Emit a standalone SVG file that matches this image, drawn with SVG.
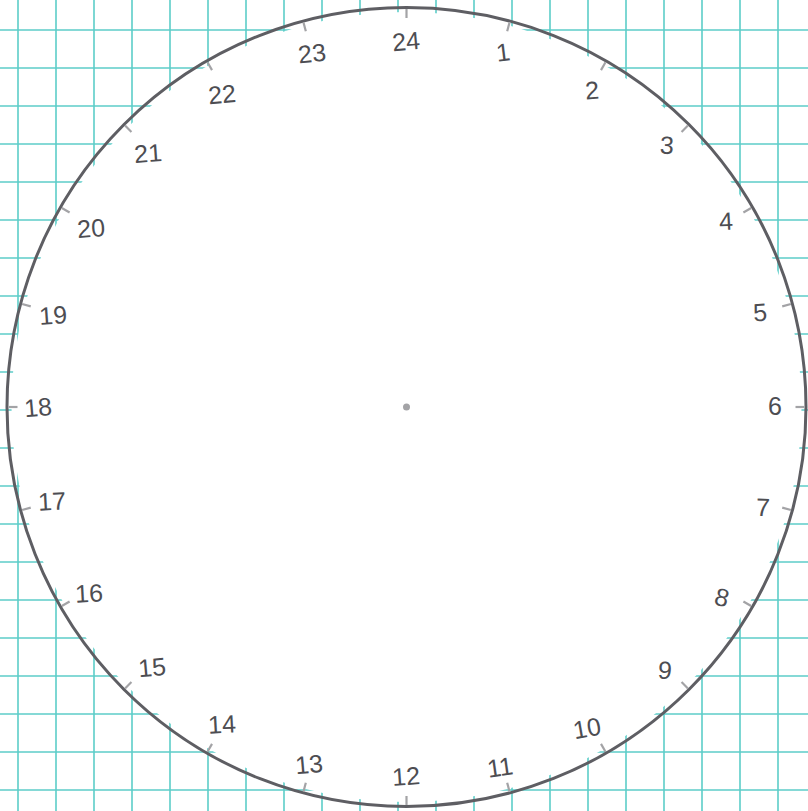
<svg xmlns="http://www.w3.org/2000/svg" width="808" height="811" viewBox="0 0 808 811">
<defs>
<style>
.grid line{stroke:#5ccdc8;stroke-width:1.6}
.tick{stroke:#a3a3a6;stroke-width:2.2}
.num{font-family:"Liberation Sans","DejaVu Sans",sans-serif;font-size:25px;fill:#4d4d52;text-anchor:middle;dominant-baseline:central}
</style>
</defs>
<rect width="808" height="811" fill="#ffffff"/>
<g class="grid" id="grid">
<line x1="18" y1="0" x2="18" y2="811"/><line x1="56" y1="0" x2="56" y2="811"/><line x1="94" y1="0" x2="94" y2="811"/><line x1="132" y1="0" x2="132" y2="811"/><line x1="170" y1="0" x2="170" y2="811"/><line x1="208" y1="0" x2="208" y2="811"/><line x1="246" y1="0" x2="246" y2="811"/><line x1="284" y1="0" x2="284" y2="811"/><line x1="322" y1="0" x2="322" y2="811"/><line x1="360" y1="0" x2="360" y2="811"/><line x1="398" y1="0" x2="398" y2="811"/><line x1="436" y1="0" x2="436" y2="811"/><line x1="474" y1="0" x2="474" y2="811"/><line x1="512" y1="0" x2="512" y2="811"/><line x1="550" y1="0" x2="550" y2="811"/><line x1="588" y1="0" x2="588" y2="811"/><line x1="626" y1="0" x2="626" y2="811"/><line x1="664" y1="0" x2="664" y2="811"/><line x1="702" y1="0" x2="702" y2="811"/><line x1="740" y1="0" x2="740" y2="811"/><line x1="778" y1="0" x2="778" y2="811"/>
<line x1="0" y1="30" x2="808" y2="30"/><line x1="0" y1="68" x2="808" y2="68"/><line x1="0" y1="106" x2="808" y2="106"/><line x1="0" y1="144" x2="808" y2="144"/><line x1="0" y1="182" x2="808" y2="182"/><line x1="0" y1="220" x2="808" y2="220"/><line x1="0" y1="258" x2="808" y2="258"/><line x1="0" y1="296" x2="808" y2="296"/><line x1="0" y1="334" x2="808" y2="334"/><line x1="0" y1="372" x2="808" y2="372"/><line x1="0" y1="410" x2="808" y2="410"/><line x1="0" y1="448" x2="808" y2="448"/><line x1="0" y1="486" x2="808" y2="486"/><line x1="0" y1="524" x2="808" y2="524"/><line x1="0" y1="562" x2="808" y2="562"/><line x1="0" y1="600" x2="808" y2="600"/><line x1="0" y1="638" x2="808" y2="638"/><line x1="0" y1="676" x2="808" y2="676"/><line x1="0" y1="714" x2="808" y2="714"/><line x1="0" y1="752" x2="808" y2="752"/><line x1="0" y1="790" x2="808" y2="790"/>
</g>
<g id="dial">
<circle cx="406.5" cy="407" r="395" fill="#ffffff"/>
<circle cx="406.5" cy="407" r="399.5" fill="none" stroke="#5e5e63" stroke-width="3"/>
<circle cx="406.5" cy="407" r="3.5" fill="#a3a3a6"/>
</g>
<g id="ticks" transform="translate(406.5 407)">
<line class="tick" x1="0" y1="-398" x2="0" y2="-389" transform="rotate(0)"/>
<line class="tick" x1="0" y1="-398" x2="0" y2="-389" transform="rotate(15)"/>
<line class="tick" x1="0" y1="-398" x2="0" y2="-389" transform="rotate(30)"/>
<line class="tick" x1="0" y1="-398" x2="0" y2="-389" transform="rotate(45)"/>
<line class="tick" x1="0" y1="-398" x2="0" y2="-389" transform="rotate(60)"/>
<line class="tick" x1="0" y1="-398" x2="0" y2="-389" transform="rotate(75)"/>
<line class="tick" x1="0" y1="-398" x2="0" y2="-389" transform="rotate(90)"/>
<line class="tick" x1="0" y1="-398" x2="0" y2="-389" transform="rotate(105)"/>
<line class="tick" x1="0" y1="-398" x2="0" y2="-389" transform="rotate(120)"/>
<line class="tick" x1="0" y1="-398" x2="0" y2="-389" transform="rotate(135)"/>
<line class="tick" x1="0" y1="-398" x2="0" y2="-389" transform="rotate(150)"/>
<line class="tick" x1="0" y1="-398" x2="0" y2="-389" transform="rotate(165)"/>
<line class="tick" x1="0" y1="-398" x2="0" y2="-389" transform="rotate(180)"/>
<line class="tick" x1="0" y1="-398" x2="0" y2="-389" transform="rotate(195)"/>
<line class="tick" x1="0" y1="-398" x2="0" y2="-389" transform="rotate(210)"/>
<line class="tick" x1="0" y1="-398" x2="0" y2="-389" transform="rotate(225)"/>
<line class="tick" x1="0" y1="-398" x2="0" y2="-389" transform="rotate(240)"/>
<line class="tick" x1="0" y1="-398" x2="0" y2="-389" transform="rotate(255)"/>
<line class="tick" x1="0" y1="-398" x2="0" y2="-389" transform="rotate(270)"/>
<line class="tick" x1="0" y1="-398" x2="0" y2="-389" transform="rotate(285)"/>
<line class="tick" x1="0" y1="-398" x2="0" y2="-389" transform="rotate(300)"/>
<line class="tick" x1="0" y1="-398" x2="0" y2="-389" transform="rotate(315)"/>
<line class="tick" x1="0" y1="-398" x2="0" y2="-389" transform="rotate(330)"/>
<line class="tick" x1="0" y1="-398" x2="0" y2="-389" transform="rotate(345)"/>
</g>
<g id="labels">
<text class="num" transform="translate(406 41) rotate(-5)">24</text>
<text class="num" transform="translate(503 52) rotate(-7)">1</text>
<text class="num" transform="translate(592 90) rotate(-4)">2</text>
<text class="num" transform="translate(667 145) rotate(3)">3</text>
<text class="num" transform="translate(726 221) rotate(-3)">4</text>
<text class="num" transform="translate(760 312) rotate(-4)">5</text>
<text class="num" transform="translate(775 406) rotate(0)">6</text>
<text class="num" transform="translate(763 507) rotate(2)">7</text>
<text class="num" transform="translate(722 597) rotate(15)">8</text>
<text class="num" transform="translate(665 670) rotate(5)">9</text>
<text class="num" transform="translate(587 728) rotate(-10)">10</text>
<text class="num" transform="translate(500 767) rotate(-8)">11</text>
<text class="num" transform="translate(406 776) rotate(-4)">12</text>
<text class="num" transform="translate(309 764) rotate(-5)">13</text>
<text class="num" transform="translate(222 724) rotate(-3)">14</text>
<text class="num" transform="translate(152 667) rotate(-5)">15</text>
<text class="num" transform="translate(89 593) rotate(-3)">16</text>
<text class="num" transform="translate(52 501) rotate(-3)">17</text>
<text class="num" transform="translate(38 407) rotate(-5)">18</text>
<text class="num" transform="translate(53 315) rotate(-4)">19</text>
<text class="num" transform="translate(91 228) rotate(-4)">20</text>
<text class="num" transform="translate(148 153) rotate(-4)">21</text>
<text class="num" transform="translate(222 94) rotate(-5)">22</text>
<text class="num" transform="translate(312 53) rotate(-6)">23</text>
</g>
</svg>
